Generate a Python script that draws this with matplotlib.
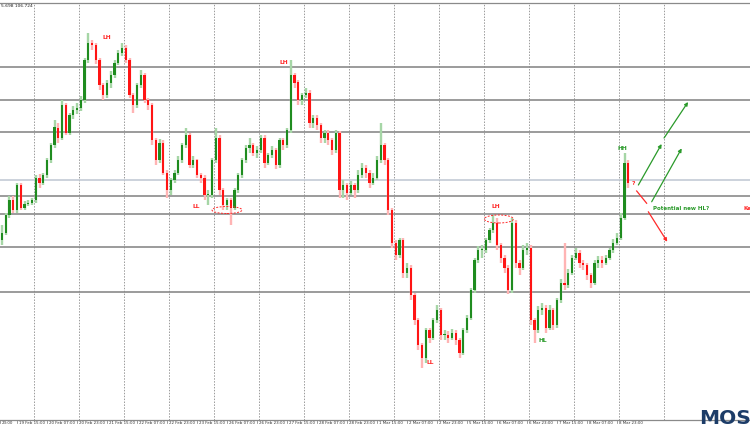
import numpy as np
import matplotlib.pyplot as plt
from matplotlib.patches import Ellipse

# USDJPY, 2-hour candles, 19 Feb - 8 Mar
first_open = 106.28
closes = [
    106.34, 106.48, 106.60, 106.52, 106.72, 106.54, 106.57, 106.58, 106.60, 106.78,
    106.74, 106.80, 106.92, 107.04, 107.18, 107.10, 107.36, 107.14, 107.28, 107.32,
    107.34, 107.40, 107.72, 107.86, 107.84, 107.72, 107.52, 107.44, 107.54, 107.60,
    107.70, 107.78, 107.82, 107.72, 107.44, 107.36, 107.52, 107.60, 107.40, 107.36,
    107.08, 106.92, 107.06, 106.82, 106.68, 106.76, 106.82, 106.92, 107.04, 107.12,
    106.88, 106.92, 106.80, 106.78, 106.64, 106.64, 106.92, 107.10, 106.68, 106.56,
    106.60, 106.54, 106.68, 106.80, 106.92, 107.02, 107.04, 106.98, 107.00, 107.10,
    106.90, 106.96, 107.00, 106.88, 107.08, 107.04, 107.16, 107.60, 107.54, 107.40,
    107.44, 107.46, 107.22, 107.26, 107.20, 107.10, 107.14, 107.08, 107.00, 107.14,
    106.68, 106.72, 106.66, 106.72, 106.68, 106.80, 106.86, 106.82, 106.74, 106.78,
    106.92, 107.04, 106.92, 106.52, 106.26, 106.16, 106.28, 106.02, 106.06, 105.84,
    105.64, 105.44, 105.34, 105.56, 105.50, 105.64, 105.72, 105.52, 105.52, 105.50,
    105.54, 105.48, 105.38, 105.56, 105.66, 105.88, 106.12, 106.20, 106.20, 106.28,
    106.36, 106.42, 106.24, 106.14, 106.06, 105.88, 106.42, 106.10, 106.06, 106.20,
    106.22, 105.64, 105.56, 105.72, 105.74, 105.58, 105.72, 105.60, 105.80, 105.94,
    105.92, 106.02, 106.14, 106.18, 106.10, 106.08, 106.00, 105.94, 106.10, 106.12,
    106.10, 106.14, 106.20, 106.26, 106.30, 106.46, 106.90, 106.74]
highs = [
    106.40, 106.50, 106.63, 106.63, 106.74, 106.74, 106.59, 106.60, 106.62, 106.80,
    106.81, 106.82, 106.94, 107.06, 107.24, 107.22, 107.40, 107.38, 107.30, 107.35,
    107.38, 107.43, 107.74, 107.94, 107.88, 107.86, 107.74, 107.54, 107.56, 107.63,
    107.72, 107.80, 107.86, 107.84, 107.74, 107.46, 107.54, 107.64, 107.62, 107.42,
    107.38, 107.10, 107.09, 107.08, 106.84, 106.78, 106.84, 106.95, 107.06, 107.18,
    107.14, 106.95, 106.93, 106.82, 106.80, 106.68, 106.94, 107.18, 107.12, 106.70,
    106.62, 106.62, 106.70, 106.82, 106.94, 107.04, 107.10, 107.06, 107.03, 107.12,
    107.12, 106.98, 107.03, 107.02, 107.10, 107.10, 107.18, 107.72, 107.62, 107.56,
    107.46, 107.50, 107.48, 107.28, 107.28, 107.22, 107.16, 107.16, 107.10, 107.16,
    107.15, 106.76, 106.74, 106.75, 106.74, 106.84, 106.90, 106.88, 106.84, 106.82,
    106.95, 107.22, 107.06, 106.94, 106.54, 106.28, 106.30, 106.30, 106.10, 106.08,
    105.86, 105.66, 105.46, 105.58, 105.58, 105.66, 105.76, 105.74, 105.56, 105.55,
    105.57, 105.56, 105.50, 105.58, 105.68, 105.90, 106.14, 106.23, 106.24, 106.30,
    106.38, 106.48, 106.46, 106.26, 106.16, 106.08, 106.46, 106.44, 106.12, 106.24,
    106.26, 106.24, 105.66, 105.75, 105.78, 105.76, 105.76, 105.74, 105.82, 105.97,
    106.26, 106.05, 106.16, 106.22, 106.20, 106.12, 106.10, 106.02, 106.12, 106.15,
    106.15, 106.16, 106.22, 106.29, 106.34, 106.50, 106.98, 106.92]
lows = [
    106.24, 106.32, 106.46, 106.50, 106.50, 106.52, 106.52, 106.55, 106.56, 106.58,
    106.70, 106.72, 106.78, 106.90, 107.02, 107.06, 107.08, 107.12, 107.12, 107.25,
    107.29, 107.31, 107.38, 107.70, 107.80, 107.69, 107.48, 107.40, 107.42, 107.50,
    107.58, 107.68, 107.75, 107.70, 107.42, 107.30, 107.34, 107.50, 107.38, 107.32,
    107.04, 106.88, 106.90, 106.80, 106.62, 106.64, 106.74, 106.80, 106.90, 107.02,
    106.86, 106.86, 106.78, 106.74, 106.60, 106.56, 106.62, 106.90, 106.64, 106.52,
    106.52, 106.40, 106.52, 106.66, 106.78, 106.90, 106.98, 106.95, 106.94, 106.98,
    106.86, 106.88, 106.94, 106.85, 106.86, 107.00, 107.02, 107.14, 107.50, 107.36,
    107.36, 107.42, 107.18, 107.18, 107.16, 107.06, 107.06, 107.04, 106.96, 106.98,
    106.62, 106.62, 106.60, 106.64, 106.62, 106.66, 106.78, 106.78, 106.70, 106.72,
    106.76, 106.90, 106.88, 106.48, 106.22, 106.12, 106.14, 105.98, 105.98, 105.80,
    105.60, 105.40, 105.26, 105.30, 105.46, 105.48, 105.62, 105.48, 105.48, 105.46,
    105.48, 105.44, 105.34, 105.36, 105.54, 105.64, 105.86, 106.10, 106.14, 106.18,
    106.26, 106.34, 106.20, 106.10, 106.02, 105.85, 105.86, 106.06, 106.00, 106.04,
    106.16, 105.60, 105.46, 105.54, 105.68, 105.54, 105.56, 105.56, 105.58, 105.78,
    105.88, 105.90, 106.00, 106.12, 106.06, 106.04, 105.96, 105.90, 105.92, 106.06,
    106.06, 106.08, 106.12, 106.18, 106.24, 106.28, 106.44, 106.70]

# horizontal support / resistance lines and bid line
levels = [107.664, 107.40, 107.144, 106.632, 106.488, 106.224, 105.864]
bid = 106.76

# first label is cut by the left edge in the original, only its time shows
time_labels = ['23:00', '19 Feb 15:00', '20 Feb 07:00', '20 Feb 23:00',
               '21 Feb 15:00', '22 Feb 07:00', '22 Feb 23:00', '23 Feb 15:00',
               '26 Feb 07:00', '26 Feb 23:00', '27 Feb 15:00', '28 Feb 07:00',
               '28 Feb 23:00', '1 Mar 15:00', '2 Mar 07:00', '2 Mar 23:00',
               '5 Mar 15:00', '6 Mar 07:00', '6 Mar 23:00', '7 Mar 15:00',
               '8 Mar 07:00', '8 Mar 23:00']

RED = '#ff2a2a'
GREEN = '#2a9a2a'

closes = np.array(closes)
opens = np.concatenate([[first_open], closes[:-1]])
highs = np.array(highs)
lows = np.array(lows)
# x in trading hours since 18 Feb 23:00
x = 8 + 2 * np.arange(len(closes))
up = closes >= opens

fig = plt.figure(figsize=(7.5, 4.3), dpi=100)
ax = fig.add_axes([0, 10 / 430, 1, 417 / 430])
ax.set_xlim(13 / 1.875, 763 / 1.875)
ax.set_ylim(104.84, 108.176)

# daily dotted grid
for d in range(15):
    ax.axvline(25 + 24 * d, color='#9a9a9a', lw=0.7, ls=(0, (1.5, 1.5)), zorder=1)
for lv in levels:
    ax.axhline(lv, color='#8a8a8a', lw=1.2, zorder=1)
ax.axhline(bid, color='#c3cbd6', lw=1.2, zorder=1)

# candles
wick_cols = np.where(up, '#a6d6a6', '#ffb4b4')
body_cols = np.where(up, '#1f8c1f', '#ff1414')
ax.vlines(x, lows, highs, colors=wick_cols, lw=1.7, zorder=2)
body = np.maximum(np.abs(closes - opens), 0.006)
ax.bar(x, body, bottom=np.minimum(opens, closes), width=1.1,
       color=body_cols, lw=0, zorder=3)

# labels on the chart
kw = dict(fontsize=4.3, fontweight='bold', ha='center', va='center', zorder=5)
ax.text(64, 107.904, 'LH', color=RED, **kw)
ax.text(158.4, 107.704, 'LH', color=RED, **kw)
ax.text(111.5, 106.55, 'LL', color=RED, **kw)
ax.text(271.5, 106.552, 'LH', color=RED, **kw)
ax.text(236.3, 105.296, 'LL', color=RED, **kw)
ax.text(296.5, 105.48, 'HL', color=GREEN, **kw)
ax.text(338.9, 107.016, 'HH', color=GREEN, **kw)
ax.text(344.5, 106.736, '?', color=RED, **kw)
ax.text(355.2, 106.534, 'Potential new HL?', color=GREEN, fontsize=4.0,
        fontweight='bold', ha='left', va='center', zorder=5)
ax.text(403.2, 106.534, 'Ke', color=RED, fontsize=4.0,
        fontweight='bold', ha='left', va='center', zorder=5)

ell = dict(fill=False, ec=RED, lw=0.7, ls=(0, (2, 1.5)), zorder=5)
ax.add_patch(Ellipse((128, 106.52), 16, 0.056, **ell))
ax.add_patch(Ellipse((273, 106.448), 15.5, 0.064, **ell))

# projected paths
def arrow(x0, y0, x1, y1, col):
    ax.annotate('', xy=(x1, y1), xytext=(x0, y0),
                arrowprops=dict(arrowstyle='-|>', color=col, lw=0.9,
                                mutation_scale=5, shrinkA=0, shrinkB=0), zorder=5)

arrow(347.4, 106.72, 359.8, 107.048, GREEN)
arrow(361.1, 107.096, 373.9, 107.384, GREEN)
arrow(354.5, 106.586, 370.5, 107.013, GREEN)
ax.plot([346.5, 351.8], [106.672, 106.574], color=RED, lw=0.9, zorder=5)
arrow(352.7, 106.506, 362.8, 106.266, RED)

# frame and time axis
ax.set_xticks([])
ax.set_yticks([])
for s in ['left', 'right']:
    ax.spines[s].set_visible(False)
for s in ['top', 'bottom']:
    ax.spines[s].set_color('#8a8a8a')
    ax.spines[s].set_linewidth(0.9)
tr = ax.get_xaxis_transform()
for k, lab in enumerate(time_labels):
    h = 16 * k
    if k == 0:
        h = 7.2
    ax.plot([h, h], [0, -0.006], color='#777777', lw=0.5, transform=tr, clip_on=False)
    ax.text(h + 0.9, -0.003, lab, transform=tr, fontsize=2.9, color='#333333',
            ha='left', va='top', clip_on=False)

fig.text(0.001, 1 - 4 / 430, '5.698 106.724', fontsize=3.2, color='#222222',
         ha='left', va='top')
fig.text(699 / 750, 1 - 424 / 430, 'MOS', fontsize=14.5, fontweight='bold',
         color='#1c3c68', ha='left', va='baseline')

fig.savefig('out.png', dpi=100)
